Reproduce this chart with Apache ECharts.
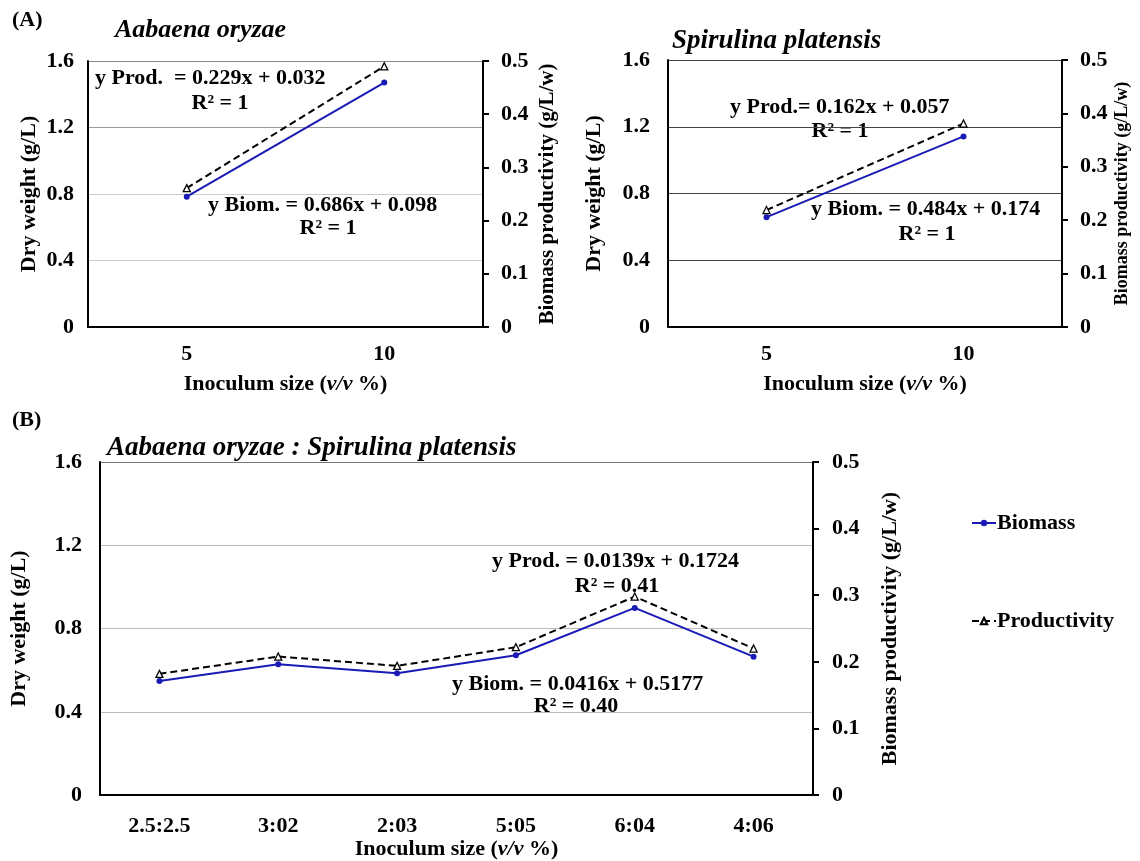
<!DOCTYPE html>
<html>
<head>
<meta charset="utf-8">
<script src="https://cdn.jsdelivr.net/npm/echarts@6/dist/echarts.min.js"></script>
<style>
  html, body { margin: 0; padding: 0; background: #fff; }
  #chart { width: 1140px; height: 861px; }
</style>
</head>
<body>
<div id="chart"></div>
<script>
// inoculum sizes (v/v %) for the single cultures
const catsSingle = ['5', '10']
const bioAnabaena = [0.784, 1.47]
const prodAnabaena = [0.261, 0.49]
const bioSpirulina = [0.658, 1.142]
const prodSpirulina = [0.219, 0.381]

// mixed culture ratios
const catsMix = ['2.5:2.5', '3:02', '2:03', '5:05', '6:04', '4:06']
const bioMix = [0.548, 0.629, 0.585, 0.672, 0.899, 0.665]
const prodMix = [0.182, 0.208, 0.194, 0.222, 0.298, 0.22]

const FONT = '"Liberation Serif", "Times New Roman", serif'
const BLUE = '#1a1ab4'
const FS = 22

const chart = echarts.init(document.getElementById('chart'))

function xAxis(grid, data, margin, gap) {
  return {
    type: 'category',
    gridIndex: grid,
    data: data,
    axisLine: { lineStyle: { color: '#000', width: 2 } },
    axisTick: { show: false },
    axisLabel: { color: '#000', fontFamily: FONT, fontWeight: 'bold', fontSize: FS, margin: margin },
    name: 'Inoculum size ({i|v/v} %)',
    nameLocation: 'middle',
    nameGap: gap,
    nameTextStyle: {
      color: '#000', fontFamily: FONT, fontWeight: 'bold', fontSize: FS,
      rich: { i: { fontStyle: 'italic', fontWeight: 'bold', fontFamily: FONT, fontSize: FS, color: '#000' } },
    },
  }
}

function leftAxis(grid, gridColors, margin, gap) {
  return {
    type: 'value',
    gridIndex: grid,
    min: 0, max: 1.6, interval: 0.4,
    axisLine: { show: true, lineStyle: { color: '#000', width: 2 } },
    axisTick: { show: false },
    splitLine: { lineStyle: { color: gridColors, width: 1.2 } },
    axisLabel: { color: '#000', fontFamily: FONT, fontWeight: 'bold', fontSize: FS, margin: margin },
    name: 'Dry weight (g/L)',
    nameLocation: 'middle',
    nameGap: gap,
    nameTextStyle: { color: '#000', fontFamily: FONT, fontWeight: 'bold', fontSize: FS },
  }
}

function rightAxis(grid, margin, gap, nameSize) {
  return {
    type: 'value',
    gridIndex: grid,
    position: 'right',
    min: 0, max: 0.5, interval: 0.1,
    axisLine: { show: true, lineStyle: { color: '#000', width: 2 } },
    axisTick: { show: true, inside: false, length: 6, lineStyle: { color: '#000', width: 2 } },
    splitLine: { show: false },
    axisLabel: { color: '#000', fontFamily: FONT, fontWeight: 'bold', fontSize: FS, margin: margin },
    name: 'Biomass productivity (g/L/w)',
    nameLocation: 'middle',
    nameGap: gap,
    nameTextStyle: { color: '#000', fontFamily: FONT, fontWeight: 'bold', fontSize: nameSize },
  }
}

function bioSeries(xi, yi, data) {
  return {
    name: 'Biomass', type: 'line', xAxisIndex: xi, yAxisIndex: yi, data: data,
    symbol: 'circle', symbolSize: 6,
    lineStyle: { color: BLUE, width: 2 },
    itemStyle: { color: BLUE },
  }
}

function prodSeries(xi, yi, data) {
  return {
    name: 'Productivity', type: 'line', xAxisIndex: xi, yAxisIndex: yi, data: data,
    symbol: 'triangle', symbolSize: 7,
    lineStyle: { color: '#000', width: 2, type: [7, 4] },
    itemStyle: { color: '#fff', borderColor: '#000', borderWidth: 1.3 },
  }
}

function label(text, x, y, opts) {
  opts = opts || {}
  return {
    type: 'text', x: x, y: y,
    style: {
      text: text,
      font: (opts.italic ? 'italic ' : '') + 'bold ' + (opts.size || FS) + 'px ' + FONT,
      fill: '#000',
      align: opts.align || 'left',
      verticalAlign: 'middle',
    },
  }
}

const option = {
  animation: false,
  backgroundColor: '#fff',
  grid: [
    { left: 88, top: 61, width: 395, height: 266 },
    { left: 668, top: 60, width: 394, height: 267 },
    { left: 100, top: 462, width: 713, height: 334 },
  ],
  xAxis: [
    xAxis(0, catsSingle, 16, 46),
    xAxis(1, catsSingle, 16, 46),
    xAxis(2, catsMix, 20, 42),
  ],
  yAxis: [
    leftAxis(0, ['#ccc', '#ccc', '#ccc', '#999', '#888'], 14, 48),
    rightAxis(0, 18, 54, 21),
    leftAxis(1, '#444', 18, 63),
    rightAxis(1, 18, 51, 18),
    leftAxis(2, ['#bbb', '#bbb', '#bbb', '#bbb', '#777'], 18, 70),
    rightAxis(2, 19, 66, FS),
  ],
  legend: {
    orient: 'vertical',
    left: 966,
    top: 507,
    itemGap: 76,
    itemWidth: 24,
    itemHeight: 8,
    data: ['Biomass', 'Productivity'],
    textStyle: { color: '#000', fontFamily: FONT, fontWeight: 'bold', fontSize: FS, padding: [0, 0, 0, -4] },
  },
  series: [
    bioSeries(0, 0, bioAnabaena),
    prodSeries(0, 1, prodAnabaena),
    bioSeries(1, 2, bioSpirulina),
    prodSeries(1, 3, prodSpirulina),
    bioSeries(2, 4, bioMix),
    prodSeries(2, 5, prodMix),
  ],
  graphic: [
    label('(A)', 12, 20, { size: 22 }),
    label('Aabaena oryzae', 115, 30, { italic: true, size: 26 }),
    label('Spirulina platensis', 672, 41, { italic: true, size: 27 }),
    label('(B)', 12, 420, { size: 22 }),
    label('Aabaena oryzae : Spirulina platensis', 107, 448, { italic: true, size: 27 }),

    label('y Prod.  = 0.229x + 0.032', 95, 78),
    label('R² = 1', 220, 103, { align: 'center' }),
    label('y Biom. = 0.686x + 0.098', 208, 205),
    label('R² = 1', 328, 228, { align: 'center' }),

    label('y Prod.= 0.162x + 0.057', 730, 107),
    label('R² = 1', 840, 131, { align: 'center' }),
    label('y Biom. = 0.484x + 0.174', 811, 209),
    label('R² = 1', 927, 234, { align: 'center' }),

    label('y Prod. = 0.0139x + 0.1724', 492, 561),
    label('R² = 0.41', 617, 586, { align: 'center' }),
    label('y Biom. = 0.0416x + 0.5177', 452, 684),
    label('R² = 0.40', 576, 706, { align: 'center' }),
  ],
}

chart.setOption(option)
</script>
</body>
</html>
